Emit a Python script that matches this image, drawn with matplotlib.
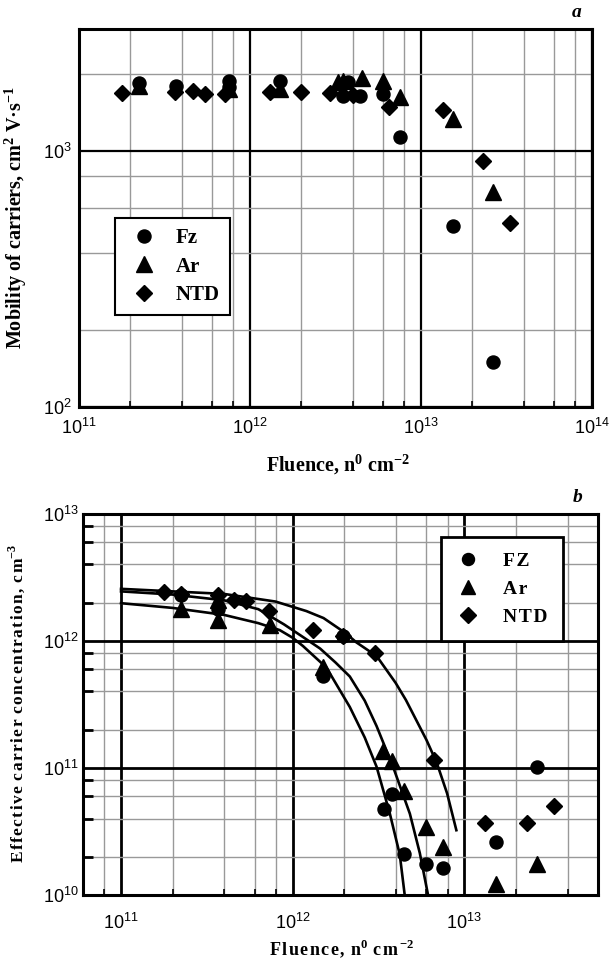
import numpy as np
import matplotlib
matplotlib.use("Agg")
import matplotlib.pyplot as plt
from matplotlib.ticker import LogLocator, NullFormatter
from matplotlib.lines import Line2D

# ---- panel a: mobility of carriers ----
ntd_x_a = [1.79e11, 3.64e11, 4.65e11, 5.46e11, 7.15e11, 1.31e12, 2.0e12, 2.94e12,
           4.0e12, 6.46e12, 1.34e13, 2.31e13, 3.31e13]
ntd_y_a = [1679, 1694, 1722, 1670, 1670, 1694, 1706, 1679, 1655, 1482, 1445, 912, 522]

fz_x_a = [2.25e11, 3.69e11, 7.57e11, 7.57e11, 1.5e12, 3.51e12, 3.76e12, 4.4e12,
          6.03e12, 7.53e12, 1.53e13, 2.65e13]
fz_y_a = [1850, 1800, 1884, 1774, 1884, 1644, 1853, 1644, 1670, 1131, 511, 150]

ar_x_a = [2.25e11, 7.57e11, 1.5e12, 3.28e12, 3.52e12, 4.5e12, 6.03e12, 7.53e12,
          1.53e13, 2.65e13]
ar_y_a = [1800, 1750, 1746, 1853, 1884, 1923, 1884, 1621, 1334, 690]

# ---- panel b: effective carrier concentration ----
ntd_x_b = [1.77e11, 2.24e11, 3.65e11, 4.55e11, 5.32e11, 7.3e11, 1.32e12, 1.96e12,
           3.02e12, 6.68e12, 1.32e13, 2.31e13, 3.34e13]
ntd_y_b = [2.44e12, 2.34e12, 2.3e12, 2.11e12, 2.07e12, 1.73e12, 1.22e12, 1.1e12,
           8.0e11, 1.15e11, 3.68e10, 3.68e10, 4.99e10]

fz_x_b = [2.24e11, 3.65e11, 1.5e12, 1.96e12, 3.39e12, 3.8e12, 4.47e12, 6.0e12,
          7.53e12, 1.53e13, 2.67e13]
fz_y_b = [2.3e12, 1.78e12, 5.3e11, 1.1e12, 4.76e10, 6.2e10, 2.1e10, 1.75e10,
          1.63e10, 2.63e10, 1.02e11]

ar_x_b = [2.24e11, 3.65e11, 3.65e11, 7.35e11, 1.5e12, 3.36e12, 3.77e12, 4.47e12,
          6.0e12, 7.53e12, 1.54e13, 2.67e13]
ar_y_b = [1.78e12, 2.1e12, 1.46e12, 1.34e12, 6.2e11, 1.35e11, 1.14e11, 6.6e10,
          3.4e10, 2.4e10, 1.22e10, 1.75e10]

# fit curves (log10 of fluence, log10 of concentration)
fit_ntd_lx = [11.0, 11.3, 11.6, 11.9, 12.08, 12.18, 12.31, 12.37, 12.49, 12.60,
              12.66, 12.78, 12.84, 12.90, 12.954]
fit_ntd_ly = [12.41, 12.39, 12.37, 12.31, 12.235, 12.18, 12.06, 11.99, 11.88, 11.67,
              11.535, 11.22, 11.04, 10.80, 10.51]
fit_ar_lx = [11.0, 11.3, 11.6, 11.8, 11.95, 12.05, 12.16, 12.25, 12.333, 12.42,
             12.489, 12.585, 12.683, 12.741, 12.789]
fit_ar_ly = [12.39, 12.365, 12.32, 12.25, 12.13, 12.04, 11.94, 11.83, 11.72, 11.53,
             11.33, 11.01, 10.64, 10.33, 10.0]
fit_fz_lx = [11.0, 11.3, 11.6, 11.8, 11.925, 12.0, 12.06, 12.197, 12.333, 12.42,
             12.489, 12.566, 12.624, 12.653]
fit_fz_ly = [12.297, 12.26, 12.205, 12.14, 12.085, 12.025, 11.96, 11.79, 11.48, 11.24,
             11.01, 10.643, 10.32, 10.0]

SERIF = "Liberation Serif"
SANS = "Liberation Sans"
HS = "\u200a"  # hair space for the letter-spaced texts of panel b


def spaced(s):
    return HS.join(s)


fig = plt.figure(figsize=(6.1, 9.6), dpi=100)

MS = dict(o=9.4, D=8.6)
MS["^"] = 11


def style_axes(ax, left_ticks):
    ax.set_xscale("log")
    ax.set_yscale("log")
    ax.xaxis.set_minor_locator(LogLocator(base=10, subs=[2, 4, 6, 8]))
    ax.yaxis.set_minor_locator(LogLocator(base=10, subs=[2, 4, 6, 8]))
    ax.xaxis.set_minor_formatter(NullFormatter())
    ax.yaxis.set_minor_formatter(NullFormatter())
    ax.grid(True, which="minor", color="#999999", lw=1.0)
    ax.grid(True, which="major", color="black", lw=1.6)
    ax.set_axisbelow(True)
    for sp in ax.spines.values():
        sp.set_linewidth(2.2)
    ax.tick_params(which="major", length=0)
    ax.tick_params(which="minor", direction="in", length=4, width=1.2,
                   bottom=True, left=left_ticks, top=False, right=False)
    if left_ticks:
        ax.tick_params(axis="y", which="minor", length=7, width=2)
    for lab in ax.get_xticklabels() + ax.get_yticklabels():
        lab.set_fontfamily(SANS)
        lab.set_fontsize(13)


def scatter_all(ax, series):
    for x, y, m in series:
        ax.plot(x, y, ls="none", marker=m, ms=MS[m], color="black", mec="black")


# ---------------- panel a ----------------
ax1 = fig.add_axes([0.1295, 0.576, 0.841, 0.394])
scatter_all(ax1, [(ntd_x_a, ntd_y_a, "D"), (fz_x_a, fz_y_a, "o"), (ar_x_a, ar_y_a, "^")])
ax1.set_xlim(1e11, 1e14)
ax1.set_ylim(1e2, 3000)
style_axes(ax1, left_ticks=False)
ax1.tick_params(axis="x", which="major", pad=8)
ax1.tick_params(axis="y", which="major", pad=5)
ax1.set_xlabel("Fluence, n$^{\\mathdefault{0}}$ cm$^{\\mathdefault{-2}}$",
               family=SERIF, weight="bold", fontsize=14.5)
ax1.xaxis.set_label_coords(0.505, -0.12)
ax1.set_ylabel("Mobility of carriers, cm$^{\\mathdefault{2}}$ V\u00b7s$^{\\mathdefault{-1}}$",
               family=SERIF, weight="bold", fontsize=14.5)
ax1.yaxis.set_label_coords(-0.098, 0.5)
ax1.text(0.98, 1.042, "a", transform=ax1.transAxes, ha="right", va="center",
         family=SERIF, style="italic", weight="bold", fontsize=14)

h_a = [Line2D([], [], ls="none", marker=m, ms=MS[m], color="black") for m in ["o", "^", "D"]]
leg1 = ax1.legend(h_a, ["Fz", "Ar", "NTD"], loc="upper left", bbox_to_anchor=(0.070, 0.5),
                  borderaxespad=0, frameon=True, fancybox=False, framealpha=1,
                  edgecolor="black", borderpad=0.5, labelspacing=0.4,
                  handlelength=1.8, handletextpad=0.6,
                  prop=dict(family=SERIF, weight="bold", size=15))
leg1.get_frame().set_linewidth(1.5)

# ---------------- panel b ----------------
ax2 = fig.add_axes([0.136, 0.0677, 0.844, 0.397])
for lx, ly in [(fit_ntd_lx, fit_ntd_ly), (fit_ar_lx, fit_ar_ly), (fit_fz_lx, fit_fz_ly)]:
    ax2.plot(10 ** np.array(lx), 10 ** np.array(ly), color="black", lw=1.9)
scatter_all(ax2, [(ntd_x_b, ntd_y_b, "D"), (fz_x_b, fz_y_b, "o"), (ar_x_b, ar_y_b, "^")])
ax2.set_xlim(6e10, 6e13)
ax2.set_ylim(1e10, 1e13)
style_axes(ax2, left_ticks=True)
ax2.grid(True, which="major", color="black", lw=2.0)
ax2.tick_params(axis="x", which="major", pad=13)
ax2.tick_params(axis="y", which="major", pad=3)
ax2.set_xlabel(spaced("Fluence,") + HS + " " + spaced("n") + "$^{\\mathdefault{0}}$" + HS + " "
               + spaced("cm") + HS + "$^{\\mathdefault{-2}}$",
               family=SERIF, weight="bold", fontsize=13)
ax2.xaxis.set_label_coords(0.503, -0.11)
ax2.set_ylabel(spaced("Effective") + HS + " " + spaced("carrier") + HS + " "
               + spaced("concentration,") + HS + " " + spaced("cm") + "$^{\\mathdefault{-3}}$",
               family=SERIF, weight="bold", fontsize=12.5)
ax2.yaxis.set_label_coords(-0.108, 0.504)
ax2.text(0.97, 1.042, "b", transform=ax2.transAxes, ha="right", va="center",
         family=SERIF, style="italic", weight="bold", fontsize=14)

h_b = [Line2D([], [], ls="none", marker=m, ms=MS[m] * 0.92, color="black") for m in ["o", "^", "D"]]
leg2 = ax2.legend(h_b, [spaced("FZ"), spaced("Ar"), spaced("NTD")], loc="upper left",
                  bbox_to_anchor=(0.695, 0.94), borderaxespad=0, frameon=True,
                  fancybox=False, framealpha=1, edgecolor="black", borderpad=0.8,
                  labelspacing=0.53, handlelength=1.2, handletextpad=1.2,
                  prop=dict(family=SERIF, weight="bold", size=14))
leg2.get_frame().set_linewidth(2.0)

fig.savefig("out.png", dpi=100)
